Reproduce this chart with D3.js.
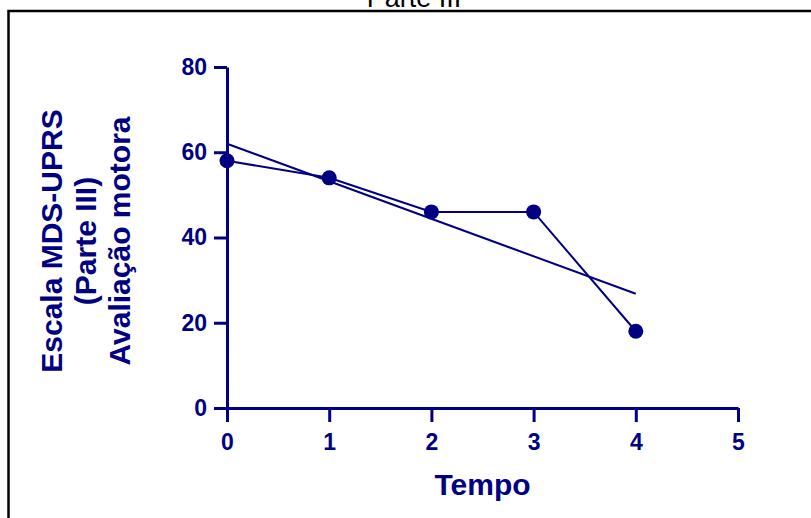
<!DOCTYPE html>
<html>
<head>
<meta charset="UTF-8">
<title>Parte III</title>
<script src="https://cdn.jsdelivr.net/npm/d3@7"></script>
<style>
  * { margin: 0; padding: 0; }
  body { background: #fff; }
  svg { display: block; font-family: "Liberation Sans", Arial, sans-serif; }
</style>
</head>
<body>
<div id="grafico"></div>
<script>
// datos
var tempo = [0, 1, 2, 3, 4];
var escala = [58, 54, 46, 46, 18];
var xTicks = [0, 1, 2, 3, 4, 5];
var yTicks = [0, 20, 40, 60, 80];
var titulo = "Parte III";
var yLabel = ["Escala MDS-UPRS", "(Parte III)", "Avaliação motora"];
var xLabel = "Tempo";

var w = 811, h = 518;
var azul = "#000080";

var svg = d3.select("#grafico").append("svg")
    .attr("width", w)
    .attr("height", h);

// marco
svg.append("rect")
    .attr("x", 8.5).attr("y", 11)
    .attr("width", 830).attr("height", 530)
    .attr("fill", "none")
    .attr("stroke", "#000")
    .attr("stroke-width", 2.5);

svg.append("text")
    .attr("x", 414).attr("y", 7)
    .attr("text-anchor", "middle")
    .attr("font-size", "27px")
    .attr("fill", "#000")
    .text(titulo);

var xScale = d3.scaleLinear().domain([0, 5]).range([227, 738]);
var yScale = d3.scaleLinear().domain([0, 80]).range([408, 67]);

// ejes
var ejeX = svg.append("g")
    .attr("transform", "translate(0," + yScale(0) + ")")
    .call(d3.axisBottom(xScale).tickValues(xTicks).tickFormat(d3.format("d")).tickSize(14).tickSizeOuter(0).tickPadding(12));
var ejeY = svg.append("g")
    .attr("transform", "translate(" + xScale(0) + ",0)")
    .call(d3.axisLeft(yScale).tickValues(yTicks).tickFormat(d3.format("d")).tickSize(13).tickSizeOuter(0).tickPadding(7));

[ejeX, ejeY].forEach(function(g) {
    g.select(".domain").attr("stroke", azul).attr("stroke-width", 3);
    g.selectAll(".tick line").attr("stroke", azul).attr("stroke-width", 3);
    g.selectAll(".tick text")
        .attr("fill", azul)
        .attr("font-size", "23px")
        .attr("font-weight", "bold")
        .attr("font-family", "Liberation Sans, Arial, sans-serif");
});

// regresion lineal
var mx = d3.mean(tempo), my = d3.mean(escala);
var sxy = d3.sum(tempo, function(d, i) { return (d - mx) * (escala[i] - my); });
var sxx = d3.sum(tempo, function(d) { return (d - mx) * (d - mx); });
var pend = sxy / sxx, inter = my - pend * mx;
var xmin = d3.min(tempo), xmax = d3.max(tempo);

svg.append("line")
    .attr("x1", xScale(xmin)).attr("y1", yScale(inter + pend * xmin))
    .attr("x2", xScale(xmax)).attr("y2", yScale(inter + pend * xmax))
    .attr("stroke", azul)
    .attr("stroke-width", 2);

var linea = d3.line()
    .x(function(d, i) { return xScale(tempo[i]); })
    .y(function(d) { return yScale(d); });

svg.append("path")
    .datum(escala)
    .attr("d", linea)
    .attr("fill", "none")
    .attr("stroke", azul)
    .attr("stroke-width", 2);

svg.selectAll("circle")
    .data(escala)
    .enter()
    .append("circle")
    .attr("cx", function(d, i) { return xScale(tempo[i]); })
    .attr("cy", function(d) { return yScale(d); })
    .attr("r", 7.5)
    .attr("fill", azul);

// titulos de ejes
svg.append("text")
    .attr("x", (xScale(0) + xScale(5)) / 2)
    .attr("y", 495)
    .attr("text-anchor", "middle")
    .attr("font-size", "30px")
    .attr("font-weight", "bold")
    .attr("fill", azul)
    .text(xLabel);

var yt = svg.append("text")
    .attr("transform", "translate(0,241) rotate(-90)")
    .attr("text-anchor", "middle")
    .attr("font-size", "30px")
    .attr("font-weight", "bold")
    .attr("fill", azul);
yLabel.forEach(function(t, i) {
    yt.append("tspan")
        .attr("x", 0)
        .attr("y", 62 + i * 34)
        .text(t);
});
</script>
</body>
</html>
